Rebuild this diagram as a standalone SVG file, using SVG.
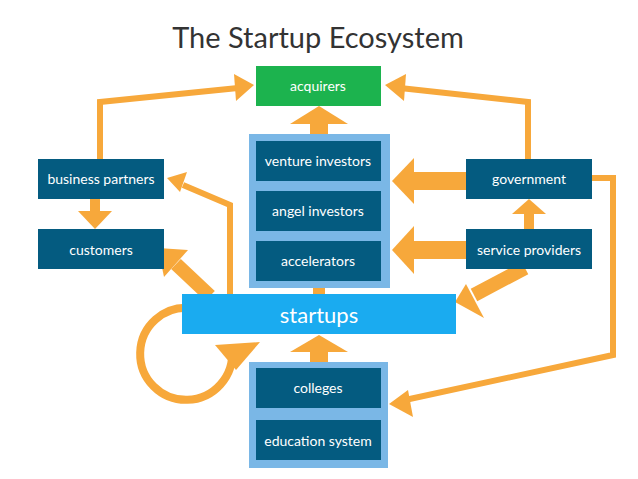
<svg xmlns="http://www.w3.org/2000/svg" width="638" height="479" viewBox="0 0 638 479">
<defs>
<style>
.n{fill:#045b80}
.t{fill:#fff;font-family:Lato,"Open Sans",sans-serif;font-size:14px;text-anchor:middle}
.c{fill:#7ab7e6}
.l{fill:none;stroke:#f7a83b;stroke-width:6;stroke-linejoin:miter}
.h{fill:#f7a83b}
</style>
</defs>
<rect width="638" height="479" fill="#fff"/>
<text x="318" y="48" style="font-family:Lato,'Open Sans',sans-serif;font-size:29px;fill:#333;text-anchor:middle">The Startup Ecosystem</text>
<g id="connectors">
<path class="l" d="M100,160 V102 L238,88"/>
<polygon class="h" points="254,85 234,74 236,101"/>
<path class="l" d="M528,160 V102 L400,88"/>
<polygon class="h" points="385,85 406,74 404,101"/>
<rect class="h" x="90" y="199" width="10" height="14"/>
<polygon class="h" points="95,229 78,211 112,211"/>
<path class="l" d="M230,295 V205 L183,185"/>
<polygon class="h" points="167,178 187,172 180,192"/>
<path class="l" d="M210,296 L176,264" style="stroke-width:14"/>
<polygon class="h" points="158,248 188,250 164,277"/>
<path class="l" d="M232,350 A46,46 0 1 1 190,308" style="stroke-width:8"/>
<polygon class="h" points="260,342 215,345 236,370"/>
<rect class="h" x="310" y="118" width="18" height="18"/>
<polygon class="h" points="319,106 290,124 348,124"/>
<rect class="h" x="404" y="172" width="64" height="18"/>
<polygon class="h" points="392,181 414,158 414,204"/>
<rect class="h" x="404" y="241" width="64" height="18"/>
<polygon class="h" points="392,250 414,226 414,274"/>
<rect class="h" x="524" y="212" width="10" height="18"/>
<polygon class="h" points="529,199 512,214 546,214"/>
<path class="l" d="M525,268 L474,295" style="stroke-width:14"/>
<polygon class="h" points="455,302 484,318 466,284"/>
<path class="l" d="M592,178 H613 V355 L405,400"/>
<polygon class="h" points="389,404 408,390 413,417"/>
<rect class="h" x="310" y="346" width="18" height="20"/>
<polygon class="h" points="319,335 290,352 348,352"/>
<rect class="h" x="313" y="286" width="12" height="10"/>
<rect class="h" x="313" y="406" width="12" height="14"/>
</g>
<g id="acquirers"><rect x="256" y="66" width="125" height="40" fill="#1cb34e"/><text class="t" x="318" y="91">acquirers</text></g>
<g id="investors"><rect class="c" x="249" y="134" width="141" height="154"/></g>
<g id="venture"><rect class="n" x="256" y="141" width="125" height="40"/><text class="t" x="318" y="166">venture investors</text></g>
<g id="angel"><rect class="n" x="256" y="191" width="125" height="40"/><text class="t" x="318" y="216">angel investors</text></g>
<g id="accelerators"><rect class="n" x="256" y="241" width="125" height="40"/><text class="t" x="318" y="266">accelerators</text></g>
<g id="bp"><rect class="n" x="38" y="159" width="126" height="40"/><text class="t" x="101" y="184">business partners</text></g>
<g id="customers"><rect class="n" x="38" y="229" width="126" height="40"/><text class="t" x="101" y="255">customers</text></g>
<g id="government"><rect class="n" x="466" y="159" width="126" height="40"/><text class="t" x="529" y="184">government</text></g>
<g id="sp"><rect class="n" x="466" y="229" width="126" height="40"/><text class="t" x="529" y="255">service providers</text></g>
<g id="startups"><rect x="182" y="294" width="274" height="40" fill="#1aabf0"/><text class="t" x="319" y="323" style="font-size:22px">startups</text></g>
<g id="edu"><rect class="c" x="249" y="362" width="139" height="106"/></g>
<g id="colleges"><rect class="n" x="256" y="368" width="125" height="40"/><text class="t" x="318" y="393">colleges</text></g>
<g id="education"><rect class="n" x="256" y="420" width="125" height="40"/><text class="t" x="318" y="446">education system</text></g>
</svg>
